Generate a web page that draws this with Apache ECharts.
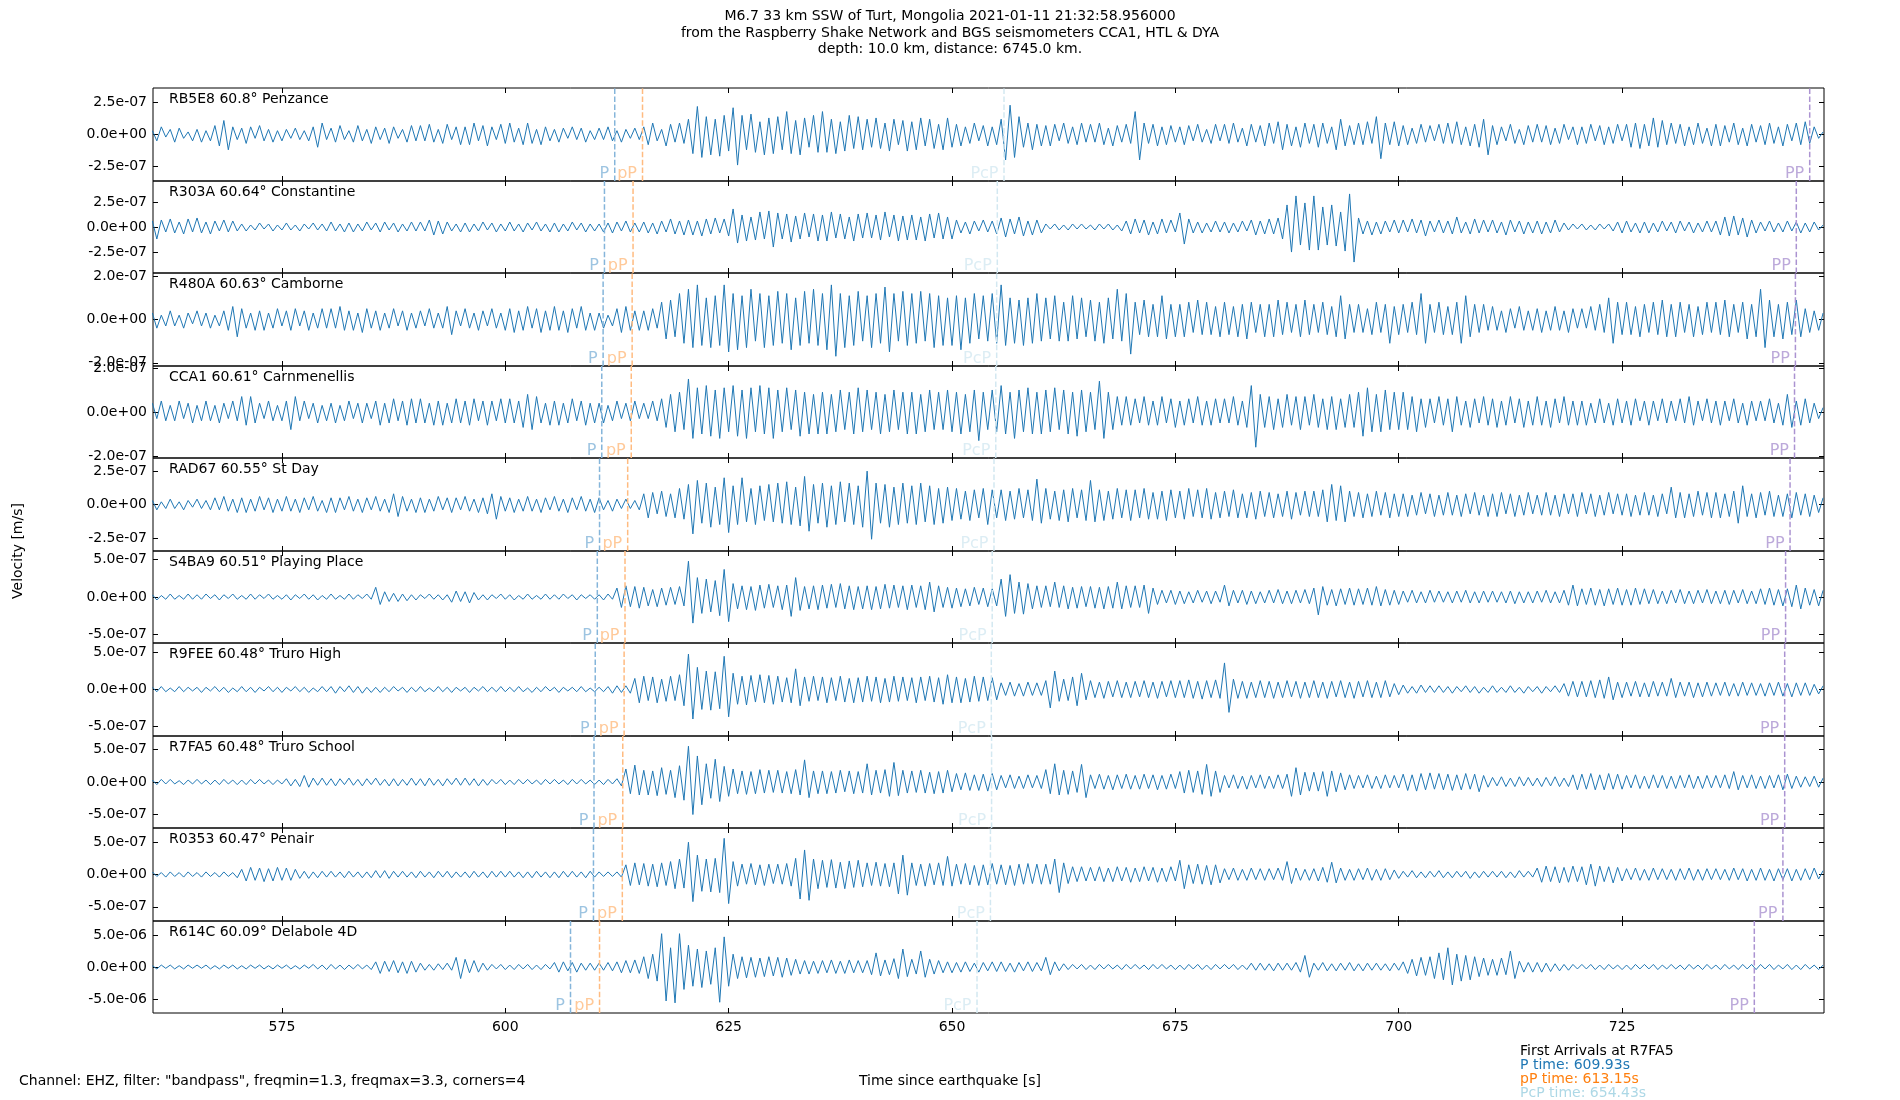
<!DOCTYPE html>
<html><head><meta charset="utf-8">
<script src="https://cdn.jsdelivr.net/npm/echarts@6/dist/echarts.min.js"></script>
<style>html,body{margin:0;padding:0;background:#fff}#c{width:1900px;height:1100px}</style>
</head><body><div id="c"></div>
<script>
// ---- data ----
const stations = ['RB5E8 60.8° Penzance','R303A 60.64° Constantine','R480A 60.63° Camborne','CCA1 60.61° Carnmenellis','RAD67 60.55° St Day','S4BA9 60.51° Playing Place','R9FEE 60.48° Truro High','R7FA5 60.48° Truro School','R0353 60.47° Penair','R614C 60.09° Delabole 4D'];
const startTime = 560.5, sampleInterval = 0.5; // seconds since earthquake
const xTicks = [575,600,625,650,675,700,725];
const yUnits = [1e-8,1e-8,1e-8,1e-8,1e-8,1e-8,1e-8,1e-8,1e-8,1e-7];
const yRanges = [36.5,45.9,21.5,20.9,34.8,61.7,63,70.7,72,71.8];
const yTicks = [[-25,0,25],[-25,0,25],[-20,0,20],[-20,0,20],[-25,0,25],[-50,0,50],[-50,0,50],[-50,0,50],[-50,0,50],[-50,0,50]];
const pTimes   = [612.25,611.1,610.95,610.8,610.55,610.3,610.07,609.93,609.87,607.3];
const pPTimes  = [615.36,614.3,614.2,614.1,613.7,613.4,613.3,613.15,613.1,610.55];
const pcpTimes = [655.82,655.07,655.0,654.9,654.7,654.5,654.4,654.43,654.3,652.8];
const ppTimes  = [746.0,744.5,744.4,744.3,743.8,743.3,743.2,743.2,743.0,739.8];

const traceRB5E8 = [
3,-5,6,-2,4,-6,5,-3,2,-5, 4,-6,3,-5,7,-9,11,-12,6,-4, 5,-7,6,-3,7,-5,4,-6,3,-5, 4,-3,5,-4,3,-5,6,-10,9,-4,
5,-6,7,-4,3,-6,7,-5,4,-7, 6,-4,5,-7,6,-3,4,-6,7,-5, 7,-5,8,-6,4,-7,8,-4,6,-8, 6,-8,9,-5,7,-9,6,-4,8,-7,
9,-6,5,-8,9,-7,4,-8,6,-5, 4,-6,5,-3,6,-4,5,-6,3,-4, 5,-4,6,-5,3,-6,4,-3,5,-4, 6,-8,9,-5,4,-9,8,-6,9,-7,
12,-15,22,-18,14,-16,12,-17,15,-13, 21,-24,15,-12,16,-14,10,-16,13,-15, 14,-12,18,-15,11,-16,13,-10,15,-14, 18,-14,12,-15,10,-13,15,-11,14,-12,
12,-10,13,-11,9,-13,12,-8,11,-13, 10,-12,13,-9,12,-11,8,-12,13,-10, 8,-9,6,-7,9,-5,7,-9,6,-8, 12,-20,23,-18,14,-10,9,-12,8,-9,
7,-9,8,-5,9,-7,6,-8,9,-6, 8,-6,9,-8,5,-9,7,-6,8,-7, 18,-20,9,-7,8,-9,6,-8,7,-6, 6,-8,7,-5,8,-6,4,-7,8,-5,
8,-7,9,-6,5,-9,8,-6,7,-9, 9,-7,10,-12,8,-9,6,-10,9,-7, 8,-10,9,-7,6,-12,12,-9,7,-8, 9,-8,10,-7,14,-19,9,-8,10,-9,
7,-8,5,-7,8,-6,7,-5,8,-7, 9,-7,10,-8,6,-9,8,-10,12,-16, 7,-8,6,-5,8,-7,4,-8,7,-6, 8,-6,7,-8,5,-7,8,-4,6,-8,
6,-7,8,-5,7,-8,6,-7,8,-5, 8,-10,9,-11,8,-9,13,-10,11,-8, 9,-7,8,-9,6,-8,9,-7,5,-9, 8,-9,7,-6,9,-8,5,-9,8,-6,
7,-8,9,-7,6,-9,8,-5,9,-8, 10,-7,6,-3,2];

const traceR303A = [
6,-12,7,-5,8,-6,5,-7,8,-5, 9,-6,5,-7,6,-4,7,-5,6,-4, 3,-4,2,-3,4,-2,3,-4,2,-3, 4,-3,2,-4,3,-2,4,-3,3,-4,
5,-4,3,-5,4,-5,3,-4,5,-3, 4,-5,5,-3,4,-5,3,-4,5,-4, 5,-4,7,-8,6,-7,5,-4,3,-5, 4,-5,3,-4,5,-3,4,-5,3,-4,
5,-4,3,-5,4,-3,5,-4,3,-5, 4,-5,3,-4,5,-3,4,-5,3,-4, 3,-5,4,-6,5,-4,6,-5,4,-5, 5,-6,4,-7,6,-5,8,-7,6,-8,
7,-8,6,-9,8,-7,9,-6,8,-9, 18,-16,12,-14,10,-13,15,-12,16,-20, 14,-12,13,-15,11,-12,14,-10,13,-14, 12,-14,15,-11,13,-12,10,-14,13,-11,
14,-11,12,-13,15,-10,12,-14,11,-13, 12,-13,10,-14,13,-11,14,-12,10,-12, 7,-6,5,-7,6,-4,7,-5,6,-7, 9,-10,8,-7,10,-9,6,-8,7,-6,
3,-2,3,-3,2,-3,3,-2,3,-2, 2,-3,3,-2,3,-3,2,-4,6,-7, 8,-6,7,-8,5,-7,8,-6,7,-5, 14,-17,8,-6,5,-6,4,-5,6,-5,
5,-6,4,-5,6,-4,7,-8,6,-7, 8,-7,9,-12,22,-25,31,-18,24,-23, 31,-23,20,-18,22,-19,15,-24,33,-35, 9,-7,6,-8,5,-7,6,-5,7,-6,
7,-5,8,-6,7,-9,6,-5,7,-6, 6,-7,10,-6,5,-7,8,-6,7,-5, 7,-6,5,-8,7,-5,6,-7,5,-6, 6,-7,5,-6,7,-5,4,-3,3,-2,
3,-3,2,-3,3,-2,3,-4,5,-6, 6,-5,4,-6,5,-6,4,-5,6,-4, 5,-6,6,-4,5,-6,4,-5,6,-5, 6,-8,10,-9,11,-8,9,-10,7,-6,
5,-4,6,-5,4,-5,6,-4,5,-6, 4,-5,5,-3,2];

const traceR480A = [
3,-4,2,-3,4,-3,2,-4,3,-2, 4,-3,3,-4,2,-3,4,-5,6,-8, 5,-4,3,-5,4,-5,3,-4,5,-3, 4,-5,5,-3,4,-5,3,-4,5,-4,
5,-4,6,-5,4,-5,3,-6,5,-4, 4,-5,3,-4,5,-3,4,-5,3,-4, 4,-3,5,-4,3,-4,6,-7,4,-3, 5,-4,3,-5,4,-3,5,-4,3,-5,
5,-6,4,-5,6,-4,5,-6,4,-5, 6,-5,4,-6,5,-4,6,-5,3,-5, 3,-4,2,-3,5,-6,6,-5,4,-5, 4,-5,5,-4,8,-9,9,-8,12,-11,
14,-13,16,-12,10,-13,11,-12,16,-15, 12,-14,11,-13,14,-10,12,-13,11,-12, 13,-11,12,-14,10,-12,13,-11,14,-12, 12,-14,16,-17,12,-13,11,-12,13,-10,
11,-13,12,-11,15,-15,12,-10,13,-12, 12,-11,13,-10,12,-13,11,-12,10,-12, 11,-14,10,-11,12,-9,11,-10,12,-11, 16,-12,10,-11,9,-12,10,-11,12,-10,
10,-9,11,-10,8,-10,11,-9,10,-8, 9,-10,8,-11,10,-9,14,-10,12,-16, 8,-7,9,-8,7,-8,11,-9,7,-8, 7,-8,8,-6,9,-7,8,-7,6,-8,
8,-7,6,-8,7,-9,8,-6,7,-8, 7,-8,9,-7,8,-6,7,-8,9,-7, 7,-6,8,-7,6,-8,11,-9,7,-6, 7,-6,5,-7,8,-6,7,-11,6,-7,
7,-6,8,-7,12,-11,7,-6,8,-7, 6,-7,8,-11,11,-8,7,-6,7,-5, 6,-5,4,-6,5,-4,6,-5,4,-5, 5,-6,4,-5,6,-5,4,-6,5,-4,
5,-4,6,-5,7,-6,10,-11,8,-7, 8,-7,6,-8,7,-6,8,-7,9,-8, 7,-8,8,-6,7,-8,6,-7,8,-6, 8,-7,9,-8,7,-6,8,-9,7,-8,
14,-13,9,-8,7,-9,8,-7,9,-8, 5,-6,4,-5,3];

const traceCCA1 = [
4,-3,5,-4,3,-4,5,-3,4,-5, 3,-4,5,-4,3,-5,4,-3,5,-4, 7,-6,7,-5,4,-3,5,-4,3,-4, 5,-8,7,-4,5,-3,4,-5,3,-4,
4,-5,3,-4,5,-3,4,-5,4,-3, 5,-6,4,-5,6,-4,5,-6,6,-5, 6,-5,4,-6,5,-6,4,-5,6,-5, 5,-6,6,-4,5,-6,5,-4,6,-5,
6,-5,5,-7,8,-8,7,-5,4,-6, 5,-6,4,-5,6,-4,5,-6,4,-5, 4,-5,3,-4,5,-3,4,-4,5,-3, 4,-3,5,-4,6,-7,8,-9,9,-8,
15,-12,11,-10,12,-11,10,-12,11,-9, 12,-11,10,-12,11,-9,12,-10,11,-12, 10,-9,11,-8,10,-11,9,-10,8,-10, 9,-10,8,-9,10,-8,9,-10,11,-9,
10,-8,9,-10,8,-9,10,-8,9,-10, 9,-10,8,-9,10,-8,9,-8,10,-9, 9,-10,8,-9,10,-13,9,-8,10,-9, 12,-10,9,-12,10,-9,11,-10,9,-10,
10,-9,11,-8,10,-10,9,-11,10,-9, 9,-8,14,-12,9,-8,7,-6,7,-6, 6,-5,7,-6,5,-6,7,-5,6,-7, 5,-6,6,-5,7,-6,5,-6,6,-5,
6,-5,7,-6,5,-7,12,-16,8,-7, 7,-8,6,-7,8,-6,7,-8,7,-6, 8,-7,6,-8,7,-8,6,-7,8,-7, 9,-11,11,-9,8,-9,10,-8,9,-8,
9,-8,7,-9,6,-7,6,-5,7,-6, 6,-9,7,-6,5,-7,6,-5,7,-6, 6,-7,5,-6,7,-5,6,-7,5,-6, 7,-6,5,-7,6,-5,7,-6,5,-6,
5,-6,4,-5,6,-5,4,-6,6,-5, 5,-6,6,-4,5,-6,5,-4,6,-5, 5,-4,6,-5,7,-6,5,-4,6,-5, 5,-6,5,-4,6,-5,4,-6,5,-4,
5,-4,6,-5,4,-6,8,-7,5,-6, 6,-5,4,-3,2];

const traceRAD67 = [
3,-4,2,-3,4,-3,2,-4,3,-2, 4,-3,3,-4,5,-4,6,-5,4,-6, 5,-6,4,-5,6,-4,5,-6,4,-5, 6,-5,4,-6,5,-4,6,-5,3,-6,
5,-6,5,-4,6,-5,4,-6,5,-4, 6,-5,4,-6,8,-9,6,-5,4,-6, 5,-6,4,-5,6,-4,5,-6,5,-4, 6,-5,4,-6,5,-7,8,-11,6,-5,
5,-6,4,-5,6,-5,4,-6,5,-4, 6,-5,4,-6,5,-4,6,-5,4,-6, 5,-4,3,-5,4,-3,4,-3,3,-4, 8,-10,9,-7,10,-9,8,-10,12,-11,
15,-22,18,-14,16,-17,13,-15,20,-21, 14,-15,20,-13,12,-15,14,-12,15,-13, 16,-14,17,-15,13,-16,21,-20,15,-14, 16,-17,14,-15,17,-13,16,-15,14,-17,
25,-26,16,-14,15,-17,13,-15,16,-14, 14,-15,16,-13,14,-15,12,-14,13,-12, 12,-11,10,-12,11,-10,12,-15,11,-10, 11,-12,10,-11,12,-10,11,-12,19,-14,
12,-11,10,-12,11,-13,12,-10,11,-12, 18,-13,11,-12,10,-11,12,-10,11,-12, 11,-10,12,-11,9,-11,10,-12,11,-10, 10,-11,12,-9,11,-10,12,-11,9,-10,
10,-9,11,-10,8,-10,9,-11,10,-9, 9,-10,8,-9,10,-11,9,-8,10,-9, 10,-9,11,-13,15,-12,14,-13,10,-9, 9,-10,8,-9,10,-8,9,-10,8,-9,
8,-9,7,-8,9,-7,8,-9,7,-8, 9,-8,7,-9,8,-7,9,-8,7,-9, 8,-9,9,-7,8,-9,7,-8,9,-7, 7,-8,9,-8,7,-9,8,-7,8,-9,
9,-7,8,-9,7,-8,9,-7,8,-8, 8,-9,7,-8,9,-8,7,-9,8,-7, 13,-10,9,-10,8,-9,10,-8,9,-10, 9,-10,8,-9,10,-14,14,-9,8,-10,
9,-8,10,-9,7,-9,8,-10,9,-8, 8,-9,7,-6,5];

const traceS4BA9 = [
3,-4,2,-3,4,-3,2,-3,4,-3, 3,-3,4,-2,3,-4,3,-2,4,-3, 2,-3,4,-3,3,-2,4,-3,2,-3, 3,-4,3,-2,4,-3,3,-4,2,-3,
4,-3,2,-3,4,-3,3,-2,4,-3, 13,-10,7,-6,5,-6,4,-5,3,-4, 3,-2,4,-3,3,-4,3,-7,8,-6, 7,-8,6,-4,3,-4,3,-2,4,-3,
3,-4,2,-3,4,-3,2,-3,4,-3, 3,-3,4,-2,3,-4,3,-2,3,-3, 3,-4,4,-3,12,-14,15,-13,14,-15, 13,-12,10,-13,12,-11,13,-10,14,-12,
48,-35,26,-22,24,-20,22,-25,37,-33, 18,-16,15,-17,14,-18,16,-15,17,-14, 15,-17,16,-26,26,-18,14,-16,15,-17, 16,-15,17,-14,18,-16,15,-17,14,-16,
15,-17,14,-16,17,-15,16,-14,15,-17, 16,-14,15,-17,20,-20,15,-14,13,-15, 12,-13,11,-12,13,-10,12,-13,11,-12, 24,-26,30,-22,20,-23,18,-16,15,-14,
15,-13,20,-14,15,-16,13,-15,14,-13, 14,-15,13,-16,14,-15,20,-16,15,-14, 15,-14,16,-22,12,-10,9,-8,9,-10, 8,-9,7,-8,9,-7,8,-9,8,-7,
16,-12,9,-8,9,-10,8,-9,7,-8, 9,-8,10,-9,8,-9,9,-8,10,-9, 12,-24,14,-11,10,-12,11,-10,12,-11, 11,-10,12,-11,14,-12,10,-11,9,-10,
8,-7,9,-8,7,-8,9,-7,8,-7, 7,-8,8,-7,9,-8,7,-8,8,-7, 8,-7,7,-8,8,-9,7,-8,7,-8, 8,-7,9,-8,7,-8,9,-11,16,-12,
11,-10,12,-11,10,-12,11,-10,12,-11, 10,-11,12,-10,11,-9,10,-9,8,-9, 9,-8,10,-9,8,-9,9,-8,10,-9, 8,-9,9,-10,9,-8,10,-9,8,-9,
11,-10,12,-11,10,-12,11,-13,16,-16, 12,-11,10,-12,9];

const traceR9FEE = [
3,-3,4,-3,2,-3,4,-3,3,-2, 3,-4,3,-2,4,-3,3,-4,2,-3, 4,-3,3,-4,3,-2,4,-3,3,-4, 3,-2,4,-3,3,-4,2,-3,4,-3,
4,-5,4,-3,5,-4,4,-5,3,-4, 3,-4,3,-3,4,-2,3,-4,3,-3, 4,-3,2,-3,4,-3,3,-4,3,-2, 3,-4,3,-2,4,-3,3,-3,4,-3,
3,-3,4,-3,2,-4,3,-3,4,-2, 3,-4,3,-2,3,-3,4,-3,2,-3, 3,-3,4,-5,5,-4,5,-5,15,-18, 18,-15,17,-18,14,-16,18,-15,20,-22,
48,-40,30,-27,25,-28,24,-26,45,-37, 22,-20,18,-21,19,-17,20,-18,19,-20, 18,-17,16,-18,28,-22,17,-16,18,-15, 17,-18,16,-15,18,-17,15,-18,16,-17,
18,-16,17,-18,15,-17,18,-16,17,-15, 16,-18,17,-15,18,-17,16,-20,20,-18, 17,-18,15,-17,18,-16,17,-15,16,-14, 9,-8,10,-9,8,-9,10,-8,9,-8,
12,-25,25,-16,14,-15,17,-22,22,-14, 12,-11,10,-12,11,-10,12,-11,10,-11, 11,-10,12,-11,10,-12,11,-10,12,-11, 12,-11,13,-12,11,-13,12,-11,13,-12,
36,-31,14,-12,11,-12,10,-11,12,-11, 11,-12,10,-11,12,-10,11,-12,10,-11, 12,-11,10,-12,11,-10,12,-11,10,-12, 11,-10,12,-11,10,-11,12,-10,8,-7,
6,-5,4,-5,6,-4,5,-4,5,-4, 4,-5,4,-3,5,-4,4,-5,3,-4, 5,-4,3,-4,5,-4,3,-5,4,-3, 4,-5,4,-3,5,-4,8,-9,11,-10,
11,-10,12,-11,13,-12,17,-14,10,-11, 10,-9,11,-10,9,-10,11,-9,10,-9, 15,-11,10,-9,10,-11,9,-10,10,-9, 9,-8,10,-9,8,-9,10,-8,9,-8,
8,-9,9,-8,10,-9,8,-10,9,-8, 9,-8,7,-6,5];

const traceR7FA5 = [
3,-4,4,-3,4,-3,2,-4,3,-3, 4,-3,3,-4,3,-4,4,-3,3,-4, 3,-4,4,-3,4,-3,3,-4,3,-3, 5,-6,4,-7,10,-8,6,-5,6,-5,
5,-6,5,-4,6,-5,4,-6,5,-4, 6,-5,4,-6,5,-6,4,-5,6,-5, 5,-6,6,-5,4,-6,5,-4,6,-5, 6,-5,5,-6,4,-5,4,-3,4,-4,
3,-4,4,-3,4,-3,3,-4,4,-3, 4,-3,3,-4,4,-3,4,-3,3,-4, 3,-4,4,-3,5,-6,20,-18,26,-20, 18,-20,17,-21,22,-19,18,-24,25,-28,
55,-50,40,-35,28,-25,35,-30,24,-22, 20,-18,17,-19,16,-18,19,-17,18,-16, 18,-17,16,-18,19,-20,34,-24,17,-18, 17,-18,16,-17,18,-15,17,-18,16,-17,
28,-20,18,-17,19,-22,30,-21,18,-17, 17,-16,18,-17,15,-18,16,-17,18,-15, 13,-12,14,-13,11,-13,12,-14,13,-12, 10,-9,11,-10,9,-10,11,-9,10,-10,
19,-18,28,-20,18,-19,17,-16,27,-24, 11,-10,12,-11,10,-12,11,-10,12,-11, 10,-11,12,-10,11,-12,10,-11,12,-10, 16,-17,18,-16,17,-19,27,-22,17,-16,
10,-9,11,-10,9,-11,10,-9,11,-10, 9,-10,11,-10,12,-22,22,-20,15,-14, 15,-14,16,-22,17,-15,14,-12,11,-10, 10,-9,11,-10,9,-10,11,-9,10,-9,
12,-13,11,-14,13,-12,14,-11,13,-12, 12,-13,11,-12,13,-11,12,-15,10,-8, 7,-6,8,-7,6,-7,8,-6,7,-6, 6,-7,7,-6,8,-7,6,-7,11,-12,
12,-11,13,-12,11,-12,13,-11,12,-11, 10,-9,11,-10,9,-10,11,-9,10,-10, 9,-10,10,-9,11,-10,9,-10,10,-9, 10,-9,11,-10,16,-12,10,-9,11,-10,
9,-10,10,-9,11,-12,12,-10,9,-8, 8,-7,9,-8,6];

const traceR0353 = [
4,-3,3,-4,4,-3,3,-4,4,-3, 3,-4,4,-3,3,-4,4,-3,3,-5, 8,-10,11,-9,10,-11,9,-10,11,-9, 10,-9,8,-6,5,-6,4,-5,5,-4,
5,-4,4,-5,5,-4,4,-5,4,-5, 6,-5,6,-6,5,-4,5,-4,4,-5, 5,-4,4,-5,5,-4,5,-5,4,-4, 4,-5,5,-4,4,-5,5,-4,5,-4,
5,-4,4,-5,4,-5,5,-4,4,-5, 4,-5,5,-4,5,-4,4,-5,5,-4, 4,-3,4,-3,4,-4,15,-17,18,-16, 17,-18,16,-19,18,-17,20,-22,24,-21,
50,-42,30,-26,24,-27,25,-28,56,-45, 20,-18,16,-15,17,-16,15,-17,16,-14, 16,-15,17,-18,25,-38,38,-40,24,-22, 22,-20,23,-21,19,-22,21,-20,22,-19,
18,-17,19,-18,17,-19,18,-30,30,-32, 18,-17,16,-18,17,-16,18,-17,28,-18, 16,-15,17,-16,14,-17,15,-16,17,-15, 15,-16,14,-17,16,-15,17,-14,16,-15,
16,-15,24,-28,18,-14,12,-11,12,-10, 11,-10,12,-11,10,-11,12,-10,11,-12, 10,-11,12,-10,11,-12,10,-11,12,-10, 22,-22,15,-14,16,-15,14,-16,15,-13,
9,-8,10,-9,8,-9,10,-8,9,-9, 9,-8,10,-9,20,-14,10,-9,8,-9, 9,-10,11,-12,19,-13,10,-9,8,-9, 9,-8,10,-9,8,-9,9,-8,7,-6,
5,-4,6,-5,4,-5,5,-4,6,-5, 4,-5,5,-4,5,-6,4,-5,5,-4, 5,-4,5,-5,4,-5,6,-4,5,-4, 10,-12,13,-11,12,-13,11,-12,13,-11,
12,-16,16,-18,13,-11,12,-13,11,-10, 9,-8,10,-9,8,-9,10,-8,9,-8, 8,-9,9,-8,10,-9,8,-9,9,-8, 9,-8,8,-9,10,-8,9,-10,8,-9,
10,-9,8,-10,9,-8,9,-10,8,-9, 9,-8,10,-7,6];

const traceR614C = [
2,-3,3,-2,3,-3,2,-3,3,-2, 3,-2,3,-3,2,-3,3,-2,3,-3, 2,-3,3,-2,3,-3,2,-3,3,-2, 3,-3,2,-3,3,-2,4,-3,3,-4,
4,-3,3,-4,3,-3,4,-3,3,-4, 8,-10,9,-7,10,-9,8,-10,9,-8, 6,-5,4,-5,5,-4,6,-5,15,-18, 12,-9,10,-8,6,-5,4,-3,4,-4,
3,-4,4,-3,4,-4,3,-4,4,-3, 7,-8,8,-6,7,-8,6,-5,6,-5, 6,-5,7,-6,8,-9,10,-9,11,-10, 16,-18,20,-22,52,-53,30,-56,52,-35,
34,-30,28,-32,25,-27,30,-55,47,-30, 20,-18,16,-17,15,-16,14,-15,16,-14, 15,-16,14,-13,12,-11,10,-11,9,-10, 10,-9,11,-10,9,-10,11,-9,10,-9,
10,-12,22,-14,11,-12,13,-18,28,-15, 12,-11,25,-16,12,-11,10,-9,8,-9, 7,-8,8,-7,6,-8,7,-6,8,-7, 8,-7,6,-8,7,-6,8,-7,7,-6,
15,-12,8,-6,5,-4,4,-3,4,-4, 3,-4,4,-3,4,-3,3,-4,4,-3, 4,-3,3,-4,4,-3,4,-3,3,-4, 3,-4,4,-3,4,-4,3,-4,4,-3,
4,-3,4,-4,3,-4,6,-5,6,-5, 5,-6,6,-5,6,-5,7,-8,18,-16, 6,-5,7,-6,5,-6,6,-5,7,-6, 5,-6,6,-5,6,-5,5,-6,6,-5,
8,-10,12,-14,15,-13,16,-18,22,-20, 30,-28,20,-22,18,-20,16,-15,14,-13, 12,-13,14,-12,25,-18,9,-8,7,-8, 7,-8,6,-7,5,-6,4,-5,4,-3,
4,-3,4,-4,3,-4,4,-3,3,-4, 3,-4,4,-3,4,-3,4,-4,3,-3, 4,-3,3,-4,4,-3,3,-4,4,-3, 3,-4,4,-3,3,-4,4,-3,4,-4,
4,-3,4,-4,3,-3,4,-4,3,-4, 4,-3,3,-4,3];

const traces = [traceRB5E8,traceR303A,traceR480A,traceCCA1,traceRAD67,traceS4BA9,traceR9FEE,traceR7FA5,traceR0353,traceR614C];
const titleLines = ['M6.7 33 km SSW of Turt, Mongolia 2021-01-11 21:32:58.956000','from the Raspberry Shake Network and BGS seismometers CCA1, HTL & DYA','depth: 10.0 km, distance: 6745.0 km.'];
const arrivalLines = ['First Arrivals at R7FA5','P time: 609.93s','pP time: 613.15s','PcP time: 654.43s'];

// ---- layout / style ----
const FONT = '"DejaVu Sans", sans-serif';
const xMin = 560.57, xMax = 747.6;
const gridLeft = 153, gridWidth = 1671;
const tops = [];
for (let i = 0; i <= 10; i++) tops.push(Math.round(88 + 92.5 * i));
const phases = [
  {name:'P', times:pTimes, color:'#85b5da'},
  {name:'pP', times:pPTimes, color:'#ffbb80'},
  {name:'PcP', times:pcpTimes, color:'#d3e8f1'},
  {name:'PP', times:ppTimes, color:'#ab93d1'}
];
const fmtExp = (v, unit) => (v * unit).toExponential(1).replace(/e([+-])(\d)$/, 'e$10$2');

const chart = echarts.init(document.getElementById('c'), null, {renderer:'canvas', width:1900, height:1100});
const grid = [], xAxis = [], yAxis = [], series = [], graphic = [];
for (let i = 0; i < 10; i++) {
  const r = yRanges[i];
  grid.push({left:gridLeft, width:gridWidth, top:tops[i], height:tops[i+1]-tops[i], show:true, borderColor:'#000', borderWidth:1, backgroundColor:'transparent', containLabel:false, outerBoundsMode:'none'});
  const tickX = {show:true, inside:true, length:5, lineStyle:{color:'#000', width:1}, customValues:xTicks};
  xAxis.push({type:'value', gridIndex:i, min:xMin, max:xMax, position:'bottom', axisLine:{show:false, onZero:false}, axisTick:tickX, splitLine:{show:false},
    axisLabel:{show:i===9, customValues:xTicks, color:'#000', fontSize:14, fontFamily:FONT, margin:7, showMinLabel:true, showMaxLabel:true}});
  xAxis.push({type:'value', gridIndex:i, min:xMin, max:xMax, position:'top', axisLine:{show:false, onZero:false}, axisTick:tickX, splitLine:{show:false}, axisLabel:{show:false}});
  const tickY = {show:true, inside:true, length:5, lineStyle:{color:'#000', width:1}, customValues:yTicks[i]};
  yAxis.push({type:'value', gridIndex:i, min:-r, max:r, position:'left', axisLine:{show:false, onZero:false}, axisTick:tickY, splitLine:{show:false},
    axisLabel:{customValues:yTicks[i], formatter:(v) => fmtExp(v, yUnits[i]), color:'#000', fontSize:14, fontFamily:FONT, margin:6, showMinLabel:true, showMaxLabel:true}});
  yAxis.push({type:'value', gridIndex:i, min:-r, max:r, position:'right', axisLine:{show:false, onZero:false}, axisTick:tickY, splitLine:{show:false}, axisLabel:{show:false}});
  series.push({type:'line', xAxisIndex:2*i, yAxisIndex:2*i, data:traces[i].map((v,k) => [startTime + k*sampleInterval, v]),
    showSymbol:false, symbol:'none', lineStyle:{color:'#1f77b4', width:1}, itemStyle:{color:'#1f77b4'}, clip:true, silent:true, animation:false, z:2});
  phases.forEach(ph => {
    const t = ph.times[i];
    series.push({type:'line', xAxisIndex:2*i, yAxisIndex:2*i, data:[[t,-r],[t,r]], symbol:'none', showSymbol:false,
      lineStyle:{color:ph.color, width:1.5, type:[5.5,2.4]}, silent:true, animation:false, z:3});
    series.push({type:'scatter', xAxisIndex:2*i, yAxisIndex:2*i, data:[[t,-r]], symbolSize:1, itemStyle:{color:'rgba(0,0,0,0)'},
      label:{show:true, formatter:ph.name, position:'left', distance:5, color:ph.color, fontSize:16, fontFamily:FONT, verticalAlign:'bottom', offset:[0,1]},
      silent:true, animation:false, clip:false, z:4});
  });
  graphic.push({type:'text', left:169, top:tops[i]+4, z:10, style:{text:stations[i], fill:'#000', fontSize:14, fontFamily:FONT}});
}
const titleY = [16.7, 33.3, 49.3];
titleLines.forEach((s, k) => graphic.push({type:'text', x:950, y:titleY[k], z:10,
  style:{text:s, fill:'#000', fontSize:14, fontFamily:FONT, textAlign:'center', textVerticalAlign:'middle', align:'center', verticalAlign:'middle'}}));
graphic.push({type:'text', x:18.5, y:551, rotation:Math.PI/2, z:10,
  style:{text:'Velocity [m/s]', fill:'#000', fontSize:14, fontFamily:FONT, textAlign:'center', textVerticalAlign:'middle', align:'center', verticalAlign:'middle'}});
graphic.push({type:'text', x:19, y:1081, z:10,
  style:{text:'Channel: EHZ, filter: "bandpass", freqmin=1.3, freqmax=3.3, corners=4', fill:'#000', fontSize:14, fontFamily:FONT, textAlign:'left', textVerticalAlign:'middle', align:'left', verticalAlign:'middle'}});
graphic.push({type:'text', x:950, y:1081, z:10,
  style:{text:'Time since earthquake [s]', fill:'#000', fontSize:14, fontFamily:FONT, textAlign:'center', textVerticalAlign:'middle', align:'center', verticalAlign:'middle'}});
const arrivalColors = ['#000000','#1f77b4','#ff7f0e','#add8e6'];
const arrivalY = [1051, 1065, 1079, 1093];
arrivalLines.forEach((s, k) => graphic.push({type:'text', x:1520, y:arrivalY[k], z:10,
  style:{text:s, fill:arrivalColors[k], fontSize:14, fontFamily:FONT, textAlign:'left', textVerticalAlign:'middle', align:'left', verticalAlign:'middle'}}));

chart.setOption({animation:false, backgroundColor:'#ffffff', textStyle:{fontFamily:FONT}, grid, xAxis, yAxis, series, graphic});
</script>
</body></html>
